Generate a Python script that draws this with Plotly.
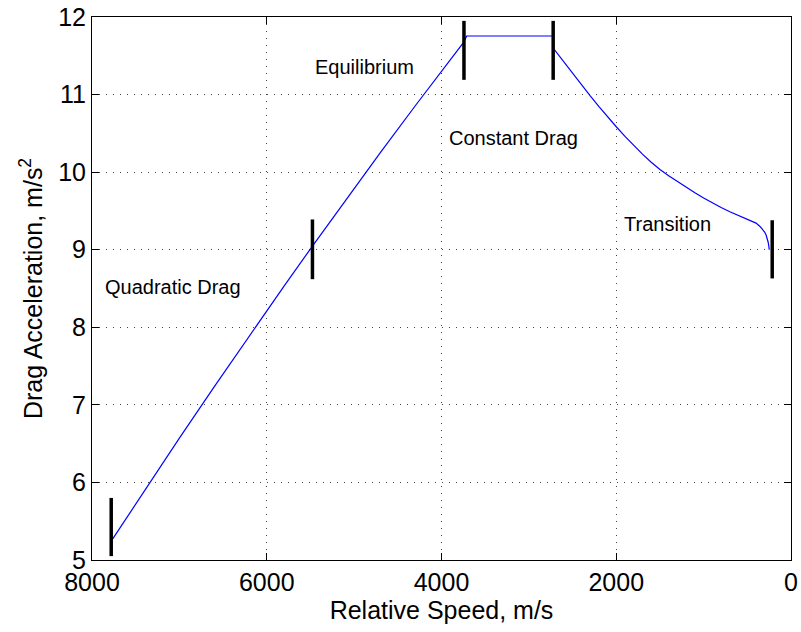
import plotly.graph_objects as go

# Drag acceleration profile
speed = [7776, 7400, 7000, 6600, 6200, 5800, 5477, 5100, 4700, 4300, 4000, 3743, 3712,
         2722, 2722, 2600, 2500, 2400, 2300, 2200, 2100, 2000, 1900, 1800, 1700, 1600,
         1500, 1400, 1300, 1200, 1100, 1000, 900, 800, 700, 600, 500, 450, 400, 355,
         320, 300, 285, 272, 262, 254, 249]
accel = [5.25, 5.895, 6.571, 7.236, 7.890, 8.534, 9.047, 9.636, 10.251, 10.856, 11.302, 11.68, 11.755,
         11.755, 11.60, 11.42, 11.273, 11.128, 10.986, 10.848, 10.714, 10.585, 10.461, 10.343, 10.232, 10.128,
         10.035, 9.955, 9.878, 9.804, 9.733, 9.666, 9.603, 9.544, 9.489, 9.438, 9.392, 9.368, 9.343, 9.30,
         9.26, 9.225, 9.19, 9.15, 9.10, 9.05, 9.0]

# Phase boundary markers: speed, lower and upper acceleration
marker_speed = [7780, 5477, 3743, 2722, 215]
marker_low = [5.05, 8.62, 11.19, 11.19, 8.63]
marker_high = [5.80, 9.39, 11.95, 11.95, 9.38]

# Phase labels
label_text = ["Quadratic Drag", "Equilibrium", "Constant Drag", "Transition"]
label_x = [7878, 5471, 3941, 1938]
label_y = [8.52, 11.355, 10.436, 9.331]

x_ticks = [8000, 6000, 4000, 2000, 0]
y_ticks = [5, 6, 7, 8, 9, 10, 11, 12]

FONT = "Helvetica, Liberation Sans, Arial, sans-serif"

fig = go.Figure()
fig.add_trace(go.Scatter(x=speed, y=accel, mode="lines",
                         line=dict(color="#0000ff", width=1.2),
                         showlegend=False, hoverinfo="skip"))

for xs, lo, hi in zip(marker_speed, marker_low, marker_high):
    fig.add_trace(go.Scatter(x=[xs, xs], y=[lo, hi], mode="lines",
                             line=dict(color="black", width=3.5),
                             showlegend=False, hoverinfo="skip"))

for t, lx, ly in zip(label_text, label_x, label_y):
    fig.add_annotation(x=lx, y=ly, text=t, showarrow=False, xanchor="left",
                       yanchor="middle", font=dict(family=FONT, size=20, color="black"))

axis_common = dict(showline=True, linecolor="black", linewidth=1, mirror="ticks",
                   ticks="inside", ticklen=7, tickcolor="black",
                   showgrid=True, gridcolor="#444444", griddash="1px,6px", gridwidth=1,
                   zeroline=False, automargin=False, ticklabeloverflow="allow",
                   tickfont=dict(family=FONT, size=25, color="black"))

fig.update_xaxes(range=[8000, 0], tickvals=x_ticks, ticktext=[str(v) for v in x_ticks],
                 title=dict(text="Relative Speed, m/s", font=dict(family=FONT, size=25, color="black"),
                            standoff=0),
                 **axis_common)
fig.update_yaxes(range=[5, 12], tickvals=y_ticks, ticktext=[str(v) for v in y_ticks],
                 title=dict(text="Drag Acceleration, m/s<sup>2</sup>",
                            font=dict(family=FONT, size=25, color="black"), standoff=8),
                 **axis_common)

fig.update_layout(width=801, height=632, margin=dict(l=92, r=10, t=17, b=72),
                  paper_bgcolor="white", plot_bgcolor="white")

fig.write_html("out.html", config={"displayModeBar": False},
               post_script="document.body.style.margin='0';document.body.style.overflow='hidden';")
